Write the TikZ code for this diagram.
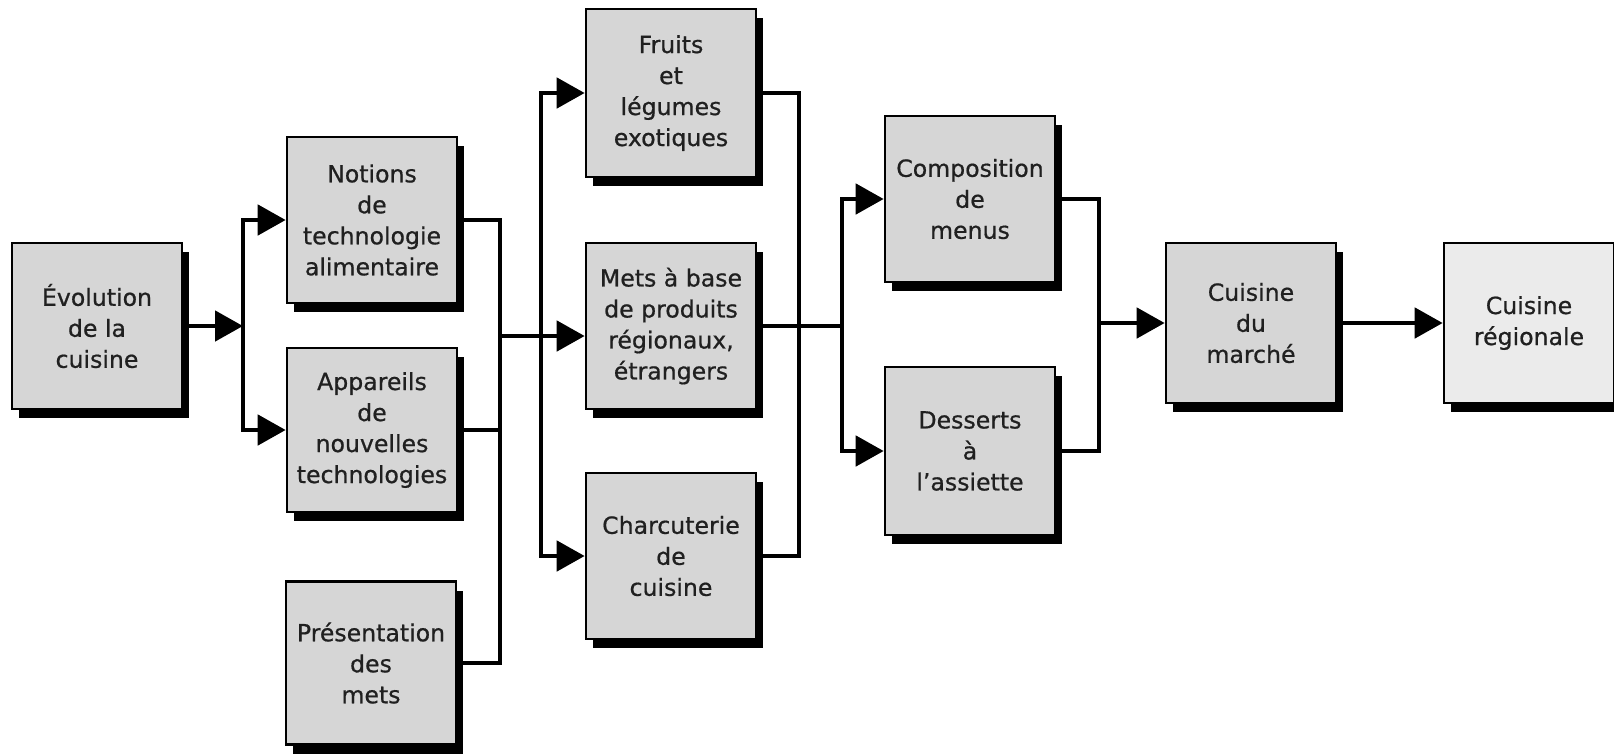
\documentclass[tikz,border=0pt]{standalone}
\usepackage{fontspec}
\setmainfont{DejaVu Sans}
\newfontfamily\boxfont[FakeBold=0.7]{DejaVu Sans}
\usetikzlibrary{arrows.meta,shadows}
\definecolor{boxgray}{HTML}{D6D6D6}
\definecolor{boxlight}{HTML}{EBEBEB}
\definecolor{txt}{HTML}{202020}
\begin{document}
\begin{tikzpicture}[x=0.5pt,y=-0.5pt,
  box/.style={draw=black,line width=1.3pt,fill=boxgray,minimum width=85pt,minimum height=83pt,
    inner sep=0pt,align=center,text=txt,font=\boxfont\fontsize{11.8}{15.5}\selectfont,
    drop shadow={shadow xshift=3.5pt,shadow yshift=-4.5pt,fill=black,opacity=1}},
  conn/.style={line width=2.4pt,line cap=rect},
  arr/.style={line width=2.4pt,-{Triangle[length=14pt,width=15pt]}}]
\useasboundingbox (0,0) rectangle (1614,756);
% boxes
\node[box] (evo) at (97,326) {Évolution\\de la\\cuisine};
\node[box] (notions) at (372,220) {Notions\\de\\technologie\\alimentaire};
\node[box,minimum height=82pt] (app) at (372,430) {Appareils\\de\\nouvelles\\technologies};
\node[box,minimum height=81.5pt] (pres) at (371,663) {Présentation\\des\\mets};
\node[box,minimum height=84pt] (fruits) at (671,93) {Fruits\\et\\légumes\\exotiques};
\node[box] (mets) at (671,326) {Mets à base\\de produits\\régionaux,\\étrangers};
\node[box] (charc) at (671,556) {Charcuterie\\de\\cuisine};
\node[box] (comp) at (970,199) {Composition\\de\\menus};
\node[box,minimum height=84pt] (dess) at (970,451) {Desserts\\à\\l’assiette};
\node[box,minimum height=80pt] (marche) at (1251,323) {Cuisine\\du\\marché};
\node[box,fill=boxlight,minimum height=80pt] (reg) at (1529,323) {Cuisine\\régionale};
% coordinates of bars
\coordinate (b1) at (243,326);
\coordinate (c2) at (500,336);
\coordinate (d3) at (541,336);
\coordinate (e4) at (799,326);
\coordinate (f5) at (842,326);
\coordinate (g6) at (1099,323);
% connectors
\draw[arr] (evo.east) -- (b1);
\draw[conn] (b1 |- notions.west) -- (b1 |- app.west);
\draw[arr] (b1 |- notions.west) -- (notions.west);
\draw[arr] (b1 |- app.west) -- (app.west);
\draw[conn] (notions.east) -| (c2);
\draw[conn] (pres.east) -| (c2);
\draw[conn] (app.east) -- (app.east -| c2);
\draw[arr] (c2) -- (mets.west |- c2);
\draw[conn] (d3 |- fruits.west) -- (d3 |- charc.west);
\draw[arr] (d3 |- fruits.west) -- (fruits.west);
\draw[arr] (d3 |- charc.west) -- (charc.west);
\draw[conn] (fruits.east) -| (e4);
\draw[conn] (charc.east) -| (e4);
\draw[conn] (mets.east) -- (f5);
\draw[conn] (f5 |- comp.west) -- (f5 |- dess.west);
\draw[arr] (f5 |- comp.west) -- (comp.west);
\draw[arr] (f5 |- dess.west) -- (dess.west);
\draw[conn] (comp.east) -| (g6);
\draw[conn] (dess.east) -| (g6);
\draw[arr] (g6) -- (marche.west);
\draw[arr] (marche.east) -- (reg.west);
\end{tikzpicture}
\end{document}
